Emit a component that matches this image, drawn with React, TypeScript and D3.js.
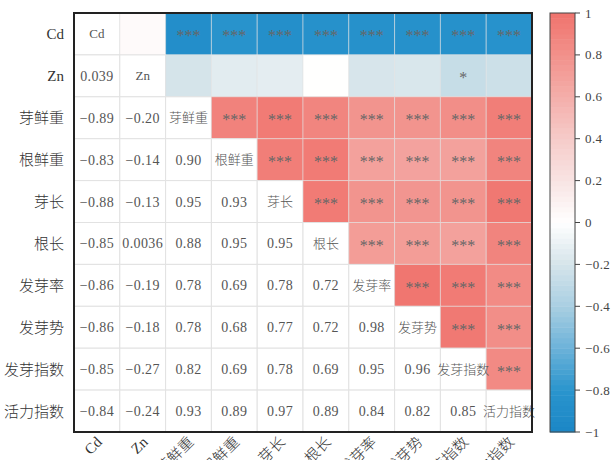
import * as d3 from "d3";

const names = ["Cd", "Zn", "芽鲜重", "根鲜重", "芽长", "根长", "发芽率", "发芽势", "发芽指数", "活力指数"];

// lower triangle, row i holds correlations with columns 0..i-1
const lowerValues: number[][] = [
  [],
  [0.039],
  [-0.89, -0.2],
  [-0.83, -0.14, 0.9],
  [-0.88, -0.13, 0.95, 0.93],
  [-0.85, 0.0036, 0.88, 0.95, 0.95],
  [-0.86, -0.19, 0.78, 0.69, 0.78, 0.72],
  [-0.86, -0.18, 0.78, 0.68, 0.77, 0.72, 0.98],
  [-0.85, -0.27, 0.82, 0.69, 0.78, 0.69, 0.95, 0.96],
  [-0.84, -0.24, 0.93, 0.89, 0.97, 0.89, 0.84, 0.82, 0.85],
];

// significance marks, same layout as lowerValues
const lowerStars: string[][] = [
  [],
  [""],
  ["***", ""],
  ["***", "", "***"],
  ["***", "", "***", "***"],
  ["***", "", "***", "***", "***"],
  ["***", "", "***", "***", "***", "***"],
  ["***", "", "***", "***", "***", "***", "***"],
  ["***", "*", "***", "***", "***", "***", "***", "***"],
  ["***", "", "***", "***", "***", "***", "***", "***", "***"],
];

const colorStops = [-1, -0.8, -0.6, -0.4, -0.2, 0, 0.2, 0.4, 0.6, 0.8, 1];
const colorRange = ["#1b86c6", "#2a95cd", "#6cb2d9", "#a9cfe2", "#d5e4ea", "#ffffff", "#f8e4e3", "#f6cbc9", "#f4aeaa", "#f2918b", "#f0736d"];
const barTicks = [1, 0.8, 0.6, 0.4, 0.2, 0, -0.2, -0.4, -0.6, -0.8, -1];

const font = "'Liberation Serif', 'DejaVu Serif', 'Noto Sans CJK SC', serif";

export default function App() {
  const left = 74;
  const right = 532;
  const top = 13;
  const bottom = 432;
  const n = names.length;

  const x = d3.scaleBand<number>().domain(d3.range(n)).range([left, right]);
  const y = d3.scaleBand<number>().domain(d3.range(n)).range([top, bottom]);
  const color = d3.scaleLinear<string>().domain(colorStops).range(colorRange).clamp(true);

  const fmt = (v: number) => (Math.abs(v) >= 0.1 ? d3.format(".2f")(v) : d3.format(".2g")(v));

  const cells: { i: number; j: number }[] = [];
  for (let i = 0; i < n; i++) for (let j = 0; j < n; j++) cells.push({ i, j });

  const barX = 550;
  const barW = 25;
  const barY = d3.scaleLinear().domain([-1, 1]).range([bottom, top]);
  const steps = d3.range(-1, 1, 2 / 80);

  const bw = x.bandwidth();
  const bh = y.bandwidth();

  return (
    <svg
      width={614}
      height={460}
      style={{ position: "fixed", left: 0, top: 0, background: "#fff" }}
      fontFamily={font}
    >
      {cells.map(({ i, j }) => {
        let fill = "#ffffff";
        if (j > i) fill = color(lowerValues[j][i]);
        return (
          <rect
            key={`c-${i}-${j}`}
            x={x(j)}
            y={y(i)}
            width={bw}
            height={bh}
            fill={fill}
            stroke={j > i ? "rgba(225,225,225,0.55)" : "#e2e2e2"}
            strokeWidth={1}
          />
        );
      })}
      {cells.map(({ i, j }) => {
        const cx = (x(j) as number) + bw / 2;
        const cy = (y(i) as number) + bh / 2;
        if (i === j) {
          return (
            <text key={`t-${i}-${j}`} x={cx} y={cy + 4.5} textAnchor="middle" fontSize={13} fontWeight={300} fill="#555">
              {names[i]}
            </text>
          );
        }
        if (j < i) {
          return (
            <text key={`t-${i}-${j}`} x={cx} y={cy + 5} textAnchor="middle" fontSize={14} letterSpacing={0.4} fill="#555">
              {fmt(lowerValues[i][j])}
            </text>
          );
        }
        const s = lowerStars[j][i];
        if (!s) return null;
        return (
          <text key={`t-${i}-${j}`} x={cx} y={cy + 7.5} textAnchor="middle" fontSize={16} fill="#666">
            {s}
          </text>
        );
      })}
      <rect x={left} y={top} width={right - left} height={bottom - top} fill="none" stroke="#222" strokeWidth={2} />

      {names.map((name, i) => (
        <text
          key={`y-${i}`}
          x={64}
          y={(y(i) as number) + bh / 2 + 5.5}
          textAnchor="end"
          fontSize={15}
          fontWeight={300}
          fill="#333"
        >
          {name}
        </text>
      ))}
      {names.map((name, i) => {
        const ax = (x(i) as number) + bw / 2 + 6;
        const ay = 443;
        return (
          <text
            key={`x-${i}`}
            x={ax}
            y={ay}
            textAnchor="end"
            fontSize={15}
            fontWeight={300}
            fill="#333"
            transform={`rotate(-45 ${ax} ${ay})`}
          >
            {name}
          </text>
        );
      })}

      {steps.map((v, k) => (
        <rect
          key={`b-${k}`}
          x={barX}
          y={barY(v + 2 / 80)}
          width={barW}
          height={barY(v) - barY(v + 2 / 80) + 0.5}
          fill={color(v + 1 / 80)}
        />
      ))}
      <rect x={barX} y={top} width={barW} height={bottom - top} fill="none" stroke="#444" strokeWidth={1} />
      {barTicks.map((t) => (
        <g key={`bt-${t}`}>
          <line x1={barX + barW} x2={barX + barW + 5} y1={barY(t)} y2={barY(t)} stroke="#444" />
          <text x={barX + barW + 10} y={barY(t) + 4.5} fontSize={13} letterSpacing={0.4} fill="#444">
            {d3.format("")(t).replace("-", "−")}
          </text>
        </g>
      ))}
    </svg>
  );
}
